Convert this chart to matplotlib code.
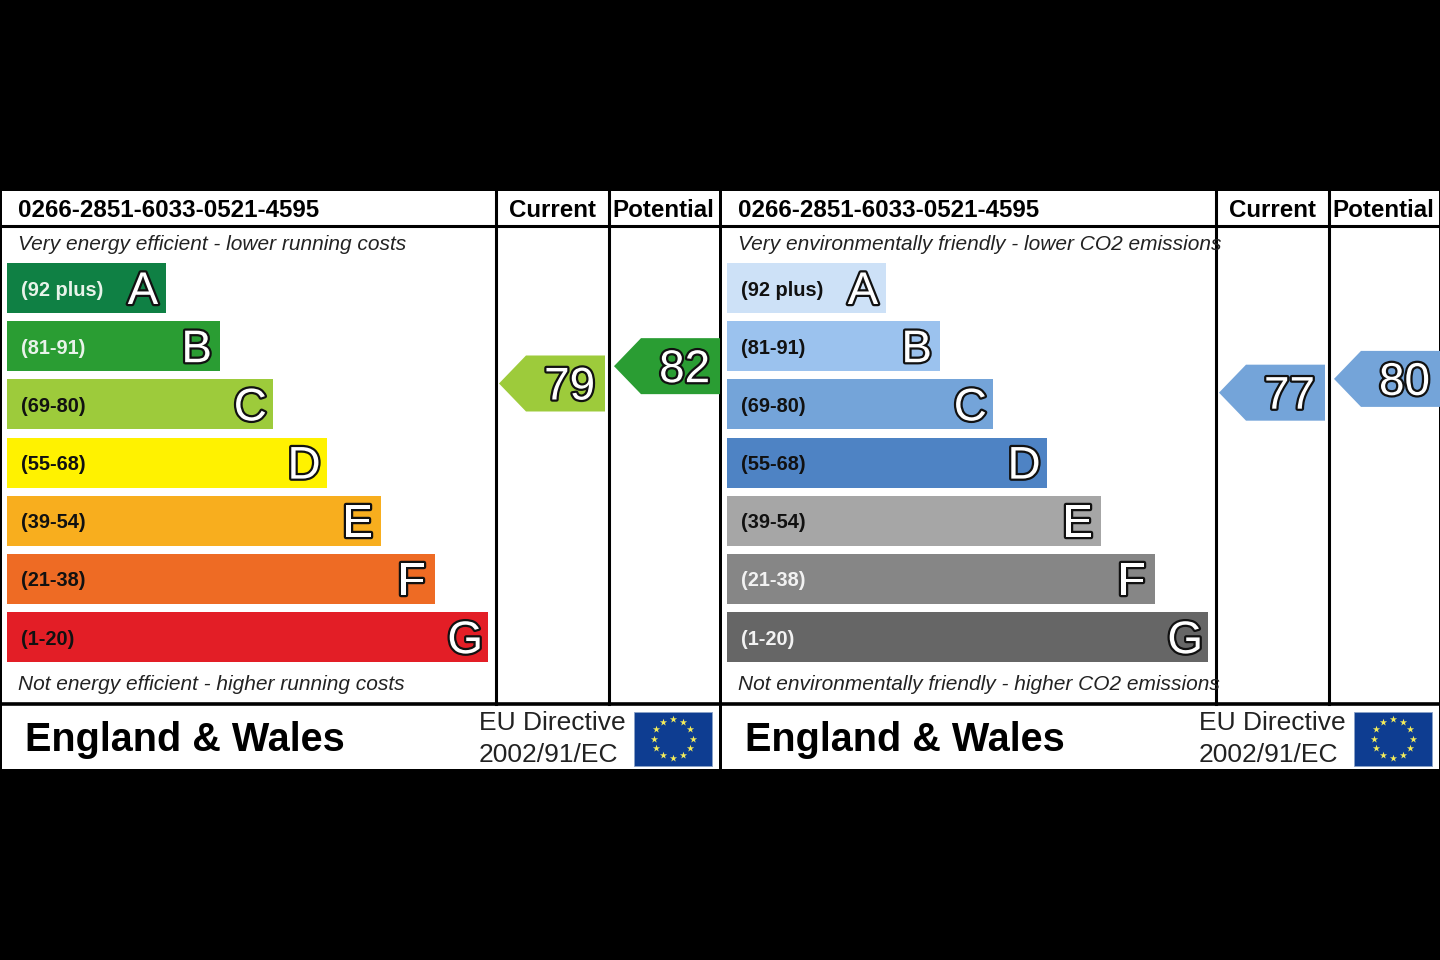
import matplotlib
matplotlib.use('Agg')
import numpy as np
import matplotlib.pyplot as plt
import matplotlib.patheffects as pe
from matplotlib.patches import Polygon, Rectangle

plt.rcParams['font.family'] = ['Liberation Sans', 'DejaVu Sans']

cert_id = "0266-2851-6033-0521-4595"
letters = ["A", "B", "C", "D", "E", "F", "G"]
ranges = ["(92 plus)", "(81-91)", "(69-80)", "(55-68)", "(39-54)", "(21-38)", "(1-20)"]
band_low = [92, 81, 69, 55, 39, 21, 1]
band_high = [100, 91, 80, 68, 54, 38, 20]

energy_colors = ["#0f8044", "#2a9d33", "#9dcb3b", "#fff200", "#f8ae1e", "#ee6b24", "#e31e26"]
energy_text = ["#e8f3ea", "#e8f3ea", "#111111", "#111111", "#111111", "#111111", "#111111"]
env_colors = ["#cde1f7", "#9bc2ee", "#74a4d9", "#4e83c4", "#a6a6a6", "#868686", "#666666"]
env_text = ["#111111", "#111111", "#111111", "#111111", "#111111", "#f2f2f2", "#f2f2f2"]

energy_current, energy_potential = 79, 82
env_current, env_potential = 77, 80

energy_top = "Very energy efficient - lower running costs"
energy_bottom = "Not energy efficient - higher running costs"
env_top = "Very environmentally friendly - lower CO2 emissions"
env_bottom = "Not environmentally friendly - higher CO2 emissions"


def outlined(ax, x, y, s, size, ha='center'):
    t = ax.text(x, y, s, fontsize=size, color='white', ha=ha, va='center_baseline')
    t.set_path_effects([pe.withStroke(linewidth=3.2, foreground='#111111')])
    return t


def band_y(score):
    # arrow sits level with the score's place inside its band
    for i in range(len(band_low)):
        if band_low[i] <= score <= band_high[i]:
            bottom = 263 + 58.2 * i + 50
            return bottom - (score - band_low[i]) * 50.5 / (band_high[i] - band_low[i])


def arrow(ax, x, score, color):
    y = band_y(score)
    pts = [(x, y), (x + 27, y - 28), (x + 106, y - 28), (x + 106, y + 28), (x + 27, y + 28)]
    ax.add_patch(Polygon(pts, closed=True, fc=color, ec='none', zorder=3))
    t = outlined(ax, x + 96, y - 1, str(score), 33, ha='right')
    t.set_zorder(4)


def flag(ax, x):
    ax.add_patch(Rectangle((x, 712), 78, 54, fc='#0e3d91', ec='#8aa2c8', lw=0.6))
    ang = np.arange(12) * np.pi / 6
    ax.scatter(x + 39 + 19.5 * np.cos(ang), 738.5 + 19.5 * np.sin(ang), marker='*',
               s=30, c='#f4ec5a', linewidths=0, zorder=3)


def panel(ax, x0, colors, text_colors, top, bottom, current, potential, cur_col, pot_col):
    ax.add_patch(Rectangle((x0 + 2, 191), 717, 578, fc='white', ec='none', zorder=0))
    ax.plot([x0 + 2, x0 + 720], [226, 226], color='black', lw=2.2)
    ax.plot([x0 + 2, x0 + 720], [704, 704], color='black', lw=2.6)
    for vx in (496, 609):
        ax.plot([x0 + vx, x0 + vx], [191, 704], color='black', lw=2.2)

    ax.text(x0 + 18, 208, cert_id, fontsize=17.4, fontweight='bold', va='center_baseline')
    ax.text(x0 + 552, 208, "Current", fontsize=17.4, fontweight='bold', ha='center', va='center_baseline')
    ax.text(x0 + 663, 208, "Potential", fontsize=17.4, fontweight='bold', ha='center', va='center_baseline')
    ax.text(x0 + 18, 242, top, fontsize=15, style='italic', color='#222222', va='center_baseline')
    ax.text(x0 + 18, 683, bottom, fontsize=15, style='italic', color='#222222', va='center_baseline')

    for i in range(len(letters)):
        y = 263 + 58.2 * i
        w = 159 + 53.7 * i
        ax.add_patch(Rectangle((x0 + 7, y), w, 50, fc=colors[i], ec='none', zorder=2))
        ax.text(x0 + 21, y + 25, ranges[i], fontsize=14.4, fontweight='bold',
                color=text_colors[i], va='center_baseline', zorder=3)
        t = outlined(ax, x0 + 7 + w - 23 - (i == 0) * 0, y + 24, letters[i], 33)
        t.set_zorder(3)

    arrow(ax, x0 + 499, current, cur_col)
    arrow(ax, x0 + 614, potential, pot_col)

    ax.text(x0 + 25, 736, "England & Wales", fontsize=28.5, fontweight='bold', va='center_baseline')
    ax.text(x0 + 479, 721, "EU Directive", fontsize=19, color='#222222', va='center_baseline')
    ax.text(x0 + 479, 752, "2002/91/EC", fontsize=19, color='#222222', va='center_baseline')
    flag(ax, x0 + 634)


fig = plt.figure(figsize=(14.4, 9.6), dpi=100, facecolor='black')
ax = fig.add_axes([0, 0, 1, 1])
ax.set_xlim(0, 1440)
ax.set_ylim(960, 0)
ax.axis('off')

panel(ax, 0, energy_colors, energy_text, energy_top, energy_bottom,
      energy_current, energy_potential, energy_colors[2], energy_colors[1])
panel(ax, 720, env_colors, env_text, env_top, env_bottom,
      env_current, env_potential, env_colors[2], env_colors[2])

fig.savefig('out.png', dpi=100, facecolor='black')
